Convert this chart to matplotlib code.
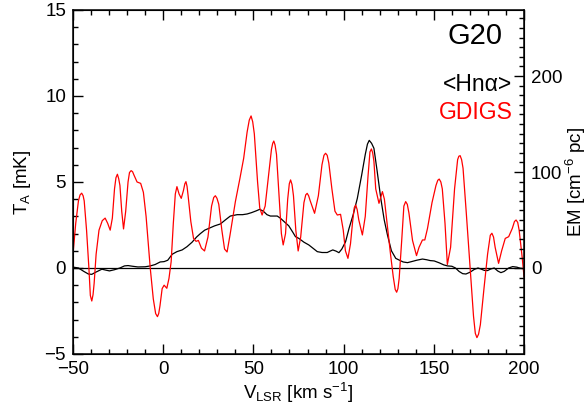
import numpy as np
import matplotlib.pyplot as plt
from matplotlib.ticker import MultipleLocator

plt.rcParams['font.family'] = ['Liberation Sans', 'DejaVu Sans']
plt.rcParams['mathtext.fontset'] = 'custom'
plt.rcParams['mathtext.rm'] = 'Liberation Sans'
plt.rcParams['mathtext.it'] = 'Liberation Sans'

# GDIGS spectrum (red), velocity [km/s] and T_A [mK]
gdigs_v = [-50, -48.5, -47, -46.1, -45.2, -44.4, -43.8, -42.5, -41.2, -40.4,
           -39.6, -38.9, -38.3, -37.2, -35.6, -33.8, -32.2, -30.8, -29.4, -28.2,
           -27, -26.2, -25.4, -24.7, -24, -23, -22.0, -20.8, -19.5, -18.7,
           -17.8, -17.0, -16.2, -14.5, -12.5, -11, -9.5, -8.2, -7.2, -5.5,
           -4.2, -3.2, -2.5, -1.8, -0.6, 0.5, 2.0, 3.2, 4.4, 5.6,
           6.7, 7.6, 8.8, 10.0, 11.2, 12.0, 12.6, 13.2, 13.8, 15.3,
           16.8, 18.2, 19.5, 21.2, 22.9, 24.8, 26.8, 28.0, 28.9, 29.8,
           30.8, 32.5, 34.0, 35.4, 37, 40, 42.5, 44.6, 46.5, 47.7,
           48.7, 49.6, 50.5, 52.3, 53.5, 54.8, 56.5, 58.5, 60, 60.7,
           61.3, 62.0, 62.8, 64.3, 65.5, 66.5, 67.8, 69, 69.9, 70.6,
           71.4, 72.2, 73.5, 74.8, 76.2, 78, 79.0, 79.8, 80.6, 81.5,
           83.9, 86, 88, 89.1, 90, 90.9, 91.8, 93.5, 95.2, 96.5,
           98.3, 99.8, 101, 102.4, 103.8, 105, 105.9, 106.7, 107.5, 108.4,
           110.4, 112, 113.5, 114.6, 115.4, 116.1, 116.8, 117.8, 119.6, 121.5,
           122.6, 124.2, 126, 127.5, 128.6, 129.4, 130.1, 130.8, 132.2, 133.4,
           134.4, 135.3, 136.2, 138.2, 140.4, 141.8, 143.7, 145, 146.5, 149,
           151.2, 152.2, 153.0, 153.9, 154.7, 156.2, 157.5, 159.3, 161.5, 163.2,
           163.9, 164.6, 165.4, 166.2, 168, 170, 172, 173.0, 173.9, 174.8,
           175.8, 177.8, 179.8, 181.3, 182.2, 183.1, 184, 185.9, 187.6, 189.6,
           191.5, 193.5, 194.7, 195.6, 196.5, 197.3, 199, 200]
gdigs_t = [0.8, 2.6, 3.9, 4.25, 4.35, 4.2, 3.9, 2.2, 0.0, -1.6,
           -1.92, -1.55, -0.9, 0.8, 2.2, 2.75, 2.9, 2.6, 2.2, 2.9,
           4.6, 5.25, 5.45, 5.2, 4.8, 3.3, 2.27, 3.3, 5.0, 5.55,
           5.66, 5.6, 5.4, 5.0, 4.92, 4.4, 3.0, 1.3, 0.0, -1.8,
           -2.65, -2.83, -2.65, -2.2, -1.2, -1.0, -1.18, -0.6, 0.37, 2.6,
           4.3, 4.73, 4.3, 4.05, 4.5, 4.9, 5.02, 4.75, 4.2, 2.7,
           1.72, 1.55, 1.6, 1.15, 0.99, 1.8, 3.6, 4.1, 4.2, 4.05,
           3.7, 2.2, 1.1, 0.93, 1.9, 3.86, 5.2, 6.38, 7.9, 8.6,
           8.84, 8.5, 7.8, 5.0, 3.5, 3.08, 3.6, 5.5, 6.9, 7.25,
           7.38, 7.15, 6.6, 4.0, 2.0, 1.34, 2.0, 4.0, 4.9, 5.12,
           4.85, 4.2, 2.2, 0.99, 1.8, 3.8, 4.25, 4.34, 4.2, 3.9,
           3.18, 4.2, 6.0, 6.55, 6.67, 6.55, 6.1, 4.6, 3.3, 3.08,
           3.12, 2.2, 1.0, 0.56, 1.4, 2.7, 3.5, 3.66, 3.4, 2.8,
           1.92, 3.0, 5.3, 6.75, 6.92, 6.7, 6.2, 4.6, 3.76, 4.44,
           4.0, 2.5, 0.8, -0.5, -1.25, -1.41, -1.2, -0.6, 1.6, 3.6,
           3.86, 3.7, 3.2, 1.6, 0.72, 1.2, 1.63, 1.63, 2.3, 3.8,
           4.8, 5.1, 5.17, 5.0, 4.6, 2.6, 0.2, 1.2, 4.6, 6.3,
           6.5, 6.53, 6.3, 5.8, 3.2, 0.2, -2.8, -3.8, -4.05, -3.85,
           -3.3, -1.2, 0.8, 1.9, 2.02, 1.8, 1.2, 0.27, 1.0, 1.72,
           1.82, 2.3, 2.7, 2.79, 2.65, 2.2, 0.6, -0.5]

# averaged Hn-alpha spectrum (black), scaled to T_A [mK]
hna_v = [-50, -47, -44, -41.5, -39.6, -37.5, -34, -32, -29.8, -27,
         -24, -21.5, -19.5, -17, -14, -10, -7.2, -4.5, -1.7, 0.5,
         2.5, 5, 7.6, 10.5, 13.2, 16, 18.5, 20.6, 23, 25.2,
         28.5, 31.7, 34.5, 37.2, 41, 44, 46.5, 49, 51.5, 53.5,
         55.5, 57.5, 59.4, 63.2, 65, 67.5, 69.6, 72, 73.3, 75.2,
         78, 80.7, 83, 85.4, 88, 90.9, 92.5, 94, 95.8, 97.4,
         99, 101.1, 103, 105.3, 107.6, 110, 112, 113.2, 114.2, 115.5,
         116.8, 118.5, 120.6, 122.5, 124.3, 126.5, 128.9, 131, 133, 135.4,
         138, 140.5, 143.7, 146, 148, 150.2, 153, 155.5, 157.6, 160,
         162, 164, 166, 167.8, 170, 172.5, 174.5, 176.1, 178, 179.8,
         181.5, 183.5, 185.5, 187.2, 189, 191.5, 193.7, 196, 198, 200]
hna_t = [0.05, 0.0, -0.2, -0.35, -0.37, -0.25, -0.07, -0.12, -0.17, -0.1,
         0.0, 0.12, 0.14, 0.1, 0.06, 0.07, 0.12, 0.2, 0.35, 0.37,
         0.45, 0.8, 0.95, 1.05, 1.24, 1.5, 1.8, 2.0, 2.2, 2.3,
         2.45, 2.56, 2.8, 3.02, 3.1, 3.1, 3.14, 3.22, 3.32, 3.41,
         3.3, 3.1, 3.02, 3.02, 2.89, 2.65, 2.45, 2.05, 1.82, 1.72,
         1.5, 1.34, 1.15, 0.95, 0.9, 0.9, 0.98, 1.05, 0.98, 0.89,
         1.1, 1.53, 2.3, 3.1, 4.05, 5.4, 6.6, 7.2, 7.42, 7.25,
         6.96, 5.7, 4.05, 2.8, 1.92, 1.0, 0.56, 0.45, 0.35, 0.31,
         0.38, 0.45, 0.52, 0.48, 0.43, 0.41, 0.3, 0.18, 0.12, 0.1,
         0.0, -0.2, -0.33, -0.35, -0.25, -0.08, 0.0, -0.06, -0.14, -0.15,
         -0.06, 0.0, -0.18, -0.27, -0.2, 0.0, 0.08, 0.05, -0.02, -0.04]

# EM per mK on the right-hand axis
em_per_mk = 17.92

fig = plt.figure(figsize=(5.87, 4.08), dpi=100)
ax = fig.add_axes([0.1244, 0.1324, 0.7683, 0.8431])

ax.axhline(0, color='black', linewidth=0.9)
ax.plot(hna_v, hna_t, color='black', linewidth=0.9, solid_joinstyle='round')
ax.plot(gdigs_v, gdigs_t, color='red', linewidth=0.9, solid_joinstyle='round')

ax.set_xlim(-50, 200)
ax.set_ylim(-5, 15)
ax.xaxis.set_major_locator(MultipleLocator(50))
ax.xaxis.set_minor_locator(MultipleLocator(10))
ax.yaxis.set_major_locator(MultipleLocator(5))
ax.yaxis.set_minor_locator(MultipleLocator(1))
ax.tick_params(which='both', direction='in', top=True, right=False,
               labelsize=13.5, width=1, pad=5)
ax.tick_params(which='major', length=7)
ax.tick_params(which='minor', length=3.5)
for s in ax.spines.values():
    s.set_linewidth(1.1)

ax.set_xlabel('V$_{\\rm LSR}$ [km s$^{-1}$]', fontsize=13.5, labelpad=2)
ax.set_ylabel('T$_{\\rm A}$ [mK]', fontsize=13.5, labelpad=8)

ax2 = ax.twinx()
ax2.set_ylim(-5 * em_per_mk, 15 * em_per_mk)
ax2.yaxis.set_major_locator(MultipleLocator(100))
ax2.yaxis.set_minor_locator(MultipleLocator(10))
ax2.tick_params(which='both', direction='in', labelsize=13.5, width=1, pad=5)
ax2.tick_params(which='major', length=7)
ax2.tick_params(which='minor', length=3.5)
ax2.set_ylabel('EM [cm$^{-6}$ pc]', fontsize=13.5, labelpad=1)

ax.text(0.953, 0.924, 'G20', transform=ax.transAxes, ha='right', va='center',
        fontsize=21)
ax.text(0.973, 0.782, '<Hn\u03b1>', transform=ax.transAxes, ha='right',
        va='center', fontsize=16.5, color='black')
ax.text(0.976, 0.703, 'GDIGS', transform=ax.transAxes, ha='right',
        va='center', fontsize=16.5, color='red')

fig.savefig('out.png', dpi=100)
